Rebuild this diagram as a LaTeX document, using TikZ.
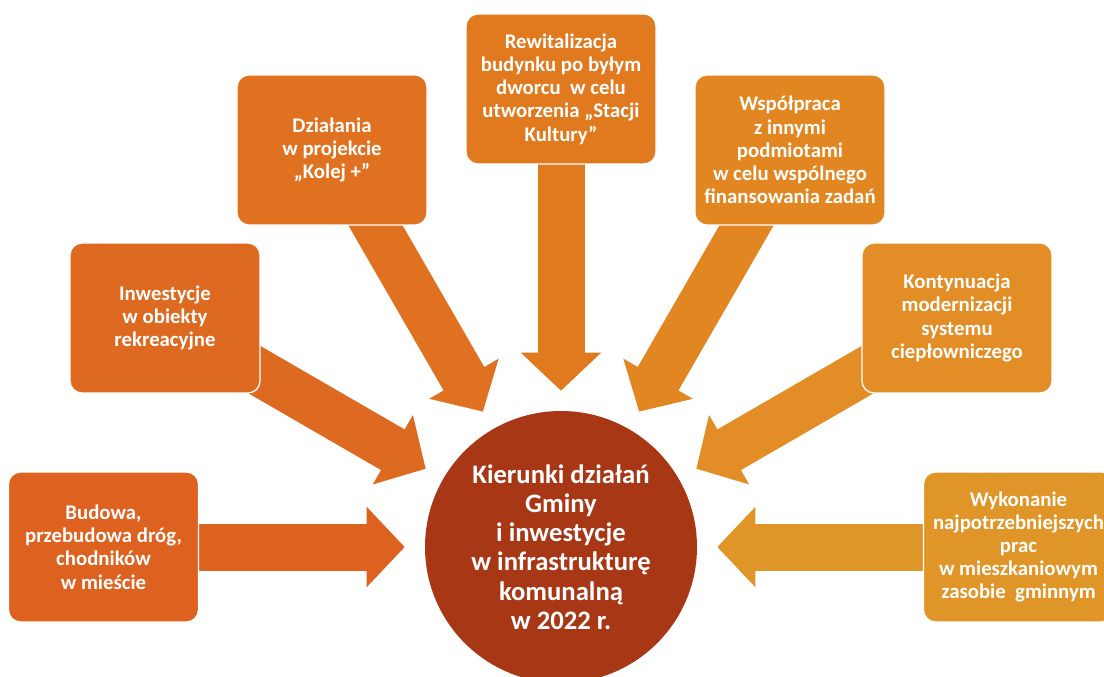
\documentclass[tikz,border=0pt]{standalone}
\usepackage{fontspec}
\setmainfont{Carlito}
\usepackage{tikz}
\usetikzlibrary{arrows.meta,backgrounds}

\definecolor{budowa}{HTML}{DD6220}
\definecolor{rekreacja}{HTML}{DE6A22}
\definecolor{kolej}{HTML}{E07120}
\definecolor{dworzec}{HTML}{E1791F}
\definecolor{wspolpraca}{HTML}{E28621}
\definecolor{cieplo}{HTML}{E28D25}
\definecolor{mieszkania}{HTML}{E09528}
\definecolor{gmina}{HTML}{A83716}

\begin{document}
\begin{tikzpicture}[
  x=0.75pt, y=-0.75pt,
  box/.style={rectangle, rounded corners=9pt, minimum width=142.5pt,
              minimum height=112.5pt, align=center, draw=white,
              line width=1pt, text=white,
              font=\fontsize{15.6}{17.4}\selectfont\bfseries},
  hub/.style={circle, minimum size=204pt, inner sep=0pt, align=center,
              fill=gmina, text=white,
              font=\fontsize{20}{21.9}\selectfont\bfseries},
  arrow/.style={line width=35.25pt, -{Triangle[width=58.5pt, length=28.5pt]},
                shorten >=15pt, shorten <=-20pt}
]
\useasboundingbox (0,0) rectangle (1104,677);

%% Centre
\node[hub] (gmina) at (561,547)
  {Kierunki działań\\ Gminy\\ i inwestycje\\ w infrastrukturę\\ komunalną\\ w 2022 r.};

%% Tasks round the centre
\node[box, fill=budowa] (budowa) at (103.5,547)
  {Budowa,\\ przebudowa dróg,\\ chodników\\ w mieście};
\node[box, fill=rekreacja] (rekreacja) at (165,318)
  {Inwestycje\\ w obiekty\\ rekreacyjne};
\node[box, fill=kolej] (kolej) at (332,150)
  {Działania\\ w projekcie\\ „Kolej +”};
\node[box, fill=dworzec] (dworzec) at (561,89)
  {Rewitalizacja\\ budynku po byłym\\ dworcu~ w celu\\ utworzenia „Stacji\\ Kultury”};
\node[box, fill=wspolpraca] (wspolpraca) at (790,150)
  {Współpraca\\ z innymi\\ podmiotami\\ w celu wspólnego\\ finansowania zadań};
\node[box, fill=cieplo] (cieplo) at (957,318)
  {Kontynuacja\\ modernizacji\\ systemu\\ ciepłowniczego};
\node[box, fill=mieszkania] (mieszkania) at (1018.5,547)
  {Wykonanie\\ najpotrzebniejszych\\ prac\\ w mieszkaniowym\\ zasobie~ gminnym};

%% Block arrows behind the boxes
\begin{scope}[on background layer]
\draw[arrow, budowa] (budowa) -- (gmina);
\draw[arrow, rekreacja] (rekreacja) -- (gmina);
\draw[arrow, kolej] (kolej) -- (gmina);
\draw[arrow, dworzec] (dworzec) -- (gmina);
\draw[arrow, wspolpraca] (wspolpraca) -- (gmina);
\draw[arrow, cieplo] (cieplo) -- (gmina);
\draw[arrow, mieszkania] (mieszkania) -- (gmina);
\end{scope}

\end{tikzpicture}
\end{document}
